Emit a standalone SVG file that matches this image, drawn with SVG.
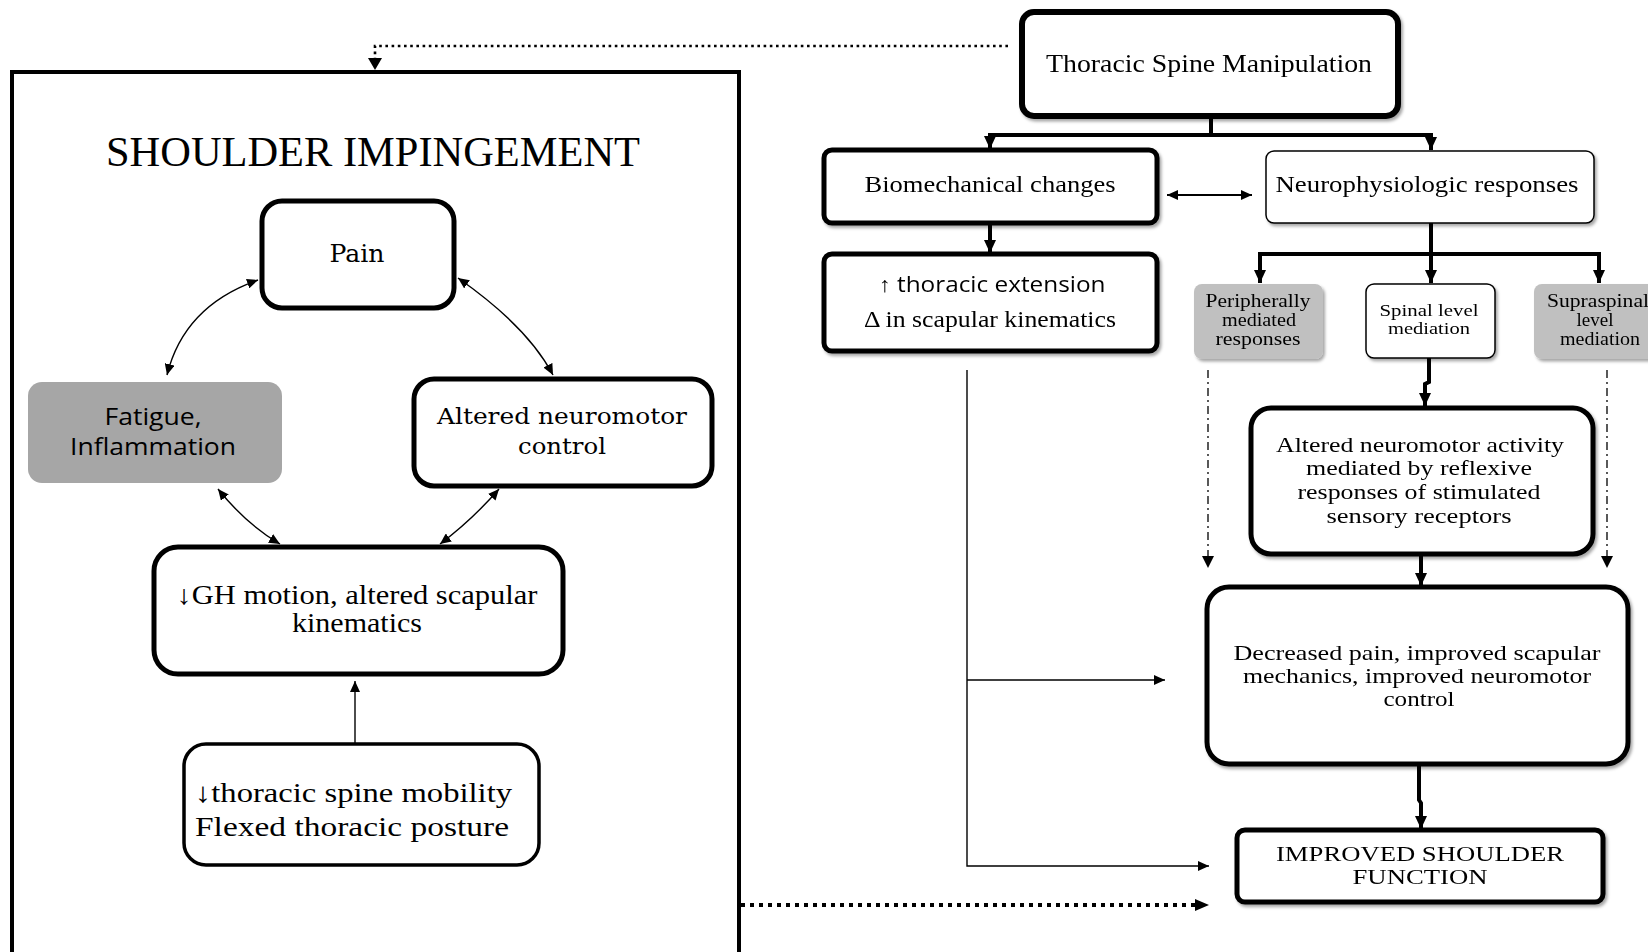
<svg xmlns="http://www.w3.org/2000/svg" width="1648" height="952" viewBox="0 0 1648 952">
<defs>
  <marker id="ah" markerUnits="userSpaceOnUse" markerWidth="14" markerHeight="12" refX="13" refY="6" orient="auto-start-reverse">
    <path d="M0,0 L13,6 L0,12 z" fill="#000"/>
  </marker>
  <marker id="as" markerUnits="userSpaceOnUse" markerWidth="12" markerHeight="10" refX="11" refY="5" orient="auto-start-reverse">
    <path d="M0,0 L11,5 L0,10 z" fill="#000"/>
  </marker>
  <filter id="sh" x="-10%" y="-10%" width="125%" height="130%">
    <feDropShadow dx="2" dy="2.5" stdDeviation="1.6" flood-color="#000" flood-opacity="0.35"/>
  </filter>
  <style>
    .serif{font-family:"Liberation Serif","Times New Roman",serif;fill:#000}
    .sans{font-family:"Open Sans","Noto Sans","Liberation Sans",sans-serif;fill:#000}
    .cam{font-family:"DejaVu Serif","Liberation Serif",serif;fill:#000}
    .thick{fill:#fff;stroke:#000;stroke-width:5}
    .thin{fill:#fff;stroke:#000;stroke-width:1.5}
    .gray{fill:#c0c0c0;stroke:none}
    .ln{fill:none;stroke:#000;stroke-width:1.4}
    .tree{fill:none;stroke:#000;stroke-width:4}
    .dd{fill:none;stroke:#000;stroke-width:1.3;stroke-dasharray:8 4 2 4}
    .dot{fill:none;stroke:#000;stroke-width:2.6;stroke-dasharray:2.6 3.6}
    .dotb{fill:none;stroke:#000;stroke-width:4;stroke-dasharray:4 5}
  </style>
</defs>
<rect width="1648" height="952" fill="#fff"/>

<!-- Left panel -->
<g id="shoulder-impingement-panel">
  <rect x="12" y="72" width="727" height="884" fill="none" stroke="#000" stroke-width="4"/>
  <text class="serif" x="373" y="166" font-size="42" text-anchor="middle" textLength="534" lengthAdjust="spacingAndGlyphs">SHOULDER  IMPINGEMENT</text>
</g>

<g id="pain">
  <rect class="thick" x="262" y="201" width="192" height="107" rx="20"/>
  <text class="cam" x="357" y="262" font-size="24" text-anchor="middle" textLength="55" lengthAdjust="spacingAndGlyphs">Pain</text>
</g>

<g id="fatigue">
  <rect x="28" y="382" width="254" height="101" rx="14" fill="#a6a6a6"/>
  <text class="sans" x="153" y="425" font-size="24" text-anchor="middle" textLength="97" lengthAdjust="spacingAndGlyphs">Fatigue,</text>
  <text class="sans" x="153" y="455" font-size="24" text-anchor="middle" textLength="166" lengthAdjust="spacingAndGlyphs">Inflammation</text>
</g>

<g id="altered-neuromotor-control">
  <rect class="thick" x="414" y="379" width="298" height="107" rx="20"/>
  <text class="cam" x="562" y="424" font-size="22" text-anchor="middle" textLength="250" lengthAdjust="spacingAndGlyphs">Altered neuromotor</text>
  <text class="cam" x="562" y="454" font-size="23" text-anchor="middle" textLength="88" lengthAdjust="spacingAndGlyphs">control</text>
</g>

<g id="gh-motion">
  <rect class="thick" x="154" y="547" width="409" height="127" rx="24"/>
  <text class="serif" x="357" y="604" font-size="27" text-anchor="middle" textLength="361" lengthAdjust="spacingAndGlyphs">↓GH motion, altered scapular</text>
  <text class="serif" x="357" y="632" font-size="27" text-anchor="middle" textLength="130" lengthAdjust="spacingAndGlyphs">kinematics</text>
</g>

<g id="thoracic-mobility">
  <rect x="184" y="744" width="355" height="121" rx="22" fill="#fff" stroke="#000" stroke-width="3.5"/>
  <text class="serif" x="195" y="802" font-size="28" textLength="317" lengthAdjust="spacingAndGlyphs">↓thoracic spine mobility</text>
  <text class="serif" x="195" y="836" font-size="28" textLength="314" lengthAdjust="spacingAndGlyphs">Flexed thoracic posture</text>
</g>

<!-- Right side nodes -->
<g id="tsm" filter="url(#sh)">
  <rect x="1022" y="12" width="376" height="104" rx="12" fill="#fff" stroke="#000" stroke-width="6"/>
  <text class="serif" x="1209" y="72" font-size="25" text-anchor="middle" textLength="326" lengthAdjust="spacingAndGlyphs">Thoracic  Spine  Manipulation</text>
</g>

<g id="biomechanical" filter="url(#sh)">
  <rect class="thick" x="824" y="150" width="333" height="73" rx="8"/>
  <text class="serif" x="990" y="192" font-size="24" text-anchor="middle" textLength="251" lengthAdjust="spacingAndGlyphs">Biomechanical changes</text>
</g>

<g id="neurophysiologic" filter="url(#sh)">
  <rect class="thin" x="1266" y="151" width="328" height="72" rx="8"/>
  <text class="serif" x="1427" y="192" font-size="24" text-anchor="middle" textLength="303" lengthAdjust="spacingAndGlyphs">Neurophysiologic  responses</text>
</g>

<g id="thoracic-extension" filter="url(#sh)">
  <rect class="thick" x="824" y="254" width="333" height="97" rx="8"/>
  <text class="sans" x="992" y="292" font-size="21" text-anchor="middle" textLength="227" lengthAdjust="spacingAndGlyphs">↑ thoracic extension</text>
  <text class="serif" x="990" y="327" font-size="23" text-anchor="middle" textLength="252" lengthAdjust="spacingAndGlyphs">Δ in scapular kinematics</text>
</g>

<g id="peripherally" filter="url(#sh)">
  <rect class="gray" x="1194" y="284" width="129" height="75" rx="8"/>
  <text class="serif" x="1258" y="307" font-size="19" text-anchor="middle" textLength="105" lengthAdjust="spacingAndGlyphs">Peripherally</text>
  <text class="serif" x="1259" y="326" font-size="19" text-anchor="middle" textLength="74" lengthAdjust="spacingAndGlyphs">mediated</text>
  <text class="serif" x="1258" y="345" font-size="19" text-anchor="middle" textLength="85" lengthAdjust="spacingAndGlyphs">responses</text>
</g>

<g id="spinal-level" filter="url(#sh)">
  <rect class="thin" x="1366" y="284" width="129" height="74" rx="8"/>
  <text class="serif" x="1429" y="316" font-size="17.5" text-anchor="middle" textLength="99" lengthAdjust="spacingAndGlyphs">Spinal level</text>
  <text class="serif" x="1429" y="334" font-size="17.5" text-anchor="middle" textLength="82" lengthAdjust="spacingAndGlyphs">mediation</text>
</g>

<g id="supraspinal" filter="url(#sh)">
  <rect class="gray" x="1534" y="284" width="130" height="75" rx="8"/>
  <text class="serif" x="1598" y="307" font-size="19" text-anchor="middle" textLength="102" lengthAdjust="spacingAndGlyphs">Supraspinal</text>
  <text class="serif" x="1595" y="326" font-size="19" text-anchor="middle">level</text>
  <text class="serif" x="1600" y="345" font-size="19" text-anchor="middle" textLength="80" lengthAdjust="spacingAndGlyphs">mediation</text>
</g>

<g id="altered-neuromotor-activity" filter="url(#sh)">
  <rect class="thick" x="1251" y="408" width="342" height="146" rx="20"/>
  <text class="serif" x="1420" y="452" font-size="22" text-anchor="middle" textLength="288" lengthAdjust="spacingAndGlyphs">Altered neuromotor  activity</text>
  <text class="serif" x="1419" y="475" font-size="22" text-anchor="middle" textLength="226" lengthAdjust="spacingAndGlyphs">mediated by reflexive</text>
  <text class="serif" x="1419" y="499" font-size="22" text-anchor="middle" textLength="243" lengthAdjust="spacingAndGlyphs">responses of stimulated</text>
  <text class="serif" x="1419" y="523" font-size="22" text-anchor="middle" textLength="185" lengthAdjust="spacingAndGlyphs">sensory receptors</text>
</g>

<g id="decreased-pain" filter="url(#sh)">
  <rect class="thick" x="1207" y="587" width="421" height="177" rx="22"/>
  <text class="serif" x="1417" y="660" font-size="22" text-anchor="middle" textLength="367" lengthAdjust="spacingAndGlyphs">Decreased pain, improved  scapular</text>
  <text class="serif" x="1417" y="683" font-size="22" text-anchor="middle" textLength="348" lengthAdjust="spacingAndGlyphs">mechanics, improved  neuromotor</text>
  <text class="serif" x="1419" y="706" font-size="22" text-anchor="middle" textLength="71" lengthAdjust="spacingAndGlyphs">control</text>
</g>

<g id="improved-shoulder-function" filter="url(#sh)">
  <rect class="thick" x="1237" y="830" width="366" height="72" rx="8"/>
  <text class="serif" x="1420" y="861" font-size="22" text-anchor="middle" textLength="288" lengthAdjust="spacingAndGlyphs">IMPROVED SHOULDER</text>
  <text class="serif" x="1420" y="884" font-size="22" text-anchor="middle" textLength="135" lengthAdjust="spacingAndGlyphs">FUNCTION</text>
</g>

<!-- Connectors -->
<g id="connectors">
  <path class="ln" d="M258,280 Q184,306 167,375" marker-start="url(#as)" marker-end="url(#as)"/>
  <path class="ln" d="M458,278 Q528,327 553,375" marker-start="url(#as)" marker-end="url(#as)"/>
  <path class="ln" d="M218,489 Q246,524 280,544" marker-start="url(#as)" marker-end="url(#as)"/>
  <path class="ln" d="M499,489 Q472,520 440,544" marker-start="url(#as)" marker-end="url(#as)"/>
  <path class="ln" d="M355,743 V681" marker-end="url(#as)"/>

  <path class="dot" d="M1008,46 H375 V58"/>
  <path d="M368,58 L382,58 L375,70 z" fill="#000"/>
  <path class="dotb" d="M741,905 H1195"/>
  <path d="M1195,899 L1209,905 L1195,911 z" fill="#000"/>

  <path class="tree" d="M1211,116 V135"/>
  <path class="tree" d="M990,135 H1431"/>
  <path class="tree" d="M990,133 V149" marker-end="url(#ah)"/>
  <path class="tree" d="M1431,133 V150" marker-end="url(#ah)"/>

  <path class="tree" d="M990,223 V253" marker-end="url(#ah)"/>

  <path class="ln" style="stroke-width:1.8" d="M1167,195 H1252" marker-start="url(#as)" marker-end="url(#as)"/>

  <path class="tree" d="M1431,223 V283" marker-end="url(#ah)"/>
  <path class="tree" d="M1260,254 H1600"/>
  <path class="tree" d="M1260,252 V283" marker-end="url(#ah)"/>
  <path class="tree" d="M1599,252 V283" marker-end="url(#ah)"/>

  <path class="tree" d="M1429,358 V382 L1425,384 V406" marker-end="url(#ah)"/>

  <path class="dd" d="M1208,370 V558"/>
  <path d="M1202,556 L1214,556 L1208,568 z" fill="#000"/>
  <path class="dd" d="M1607,370 V558"/>
  <path d="M1601,556 L1613,556 L1607,568 z" fill="#000"/>

  <path class="tree" d="M1421,554 V586" marker-end="url(#ah)"/>

  <path class="tree" d="M1419,765 V800 L1421,803 V829" marker-end="url(#ah)"/>

  <path class="ln" d="M967,370 V866 H1209" marker-end="url(#as)"/>
  <path class="ln" d="M967,680 H1165" marker-end="url(#as)"/>
</g>
</svg>
